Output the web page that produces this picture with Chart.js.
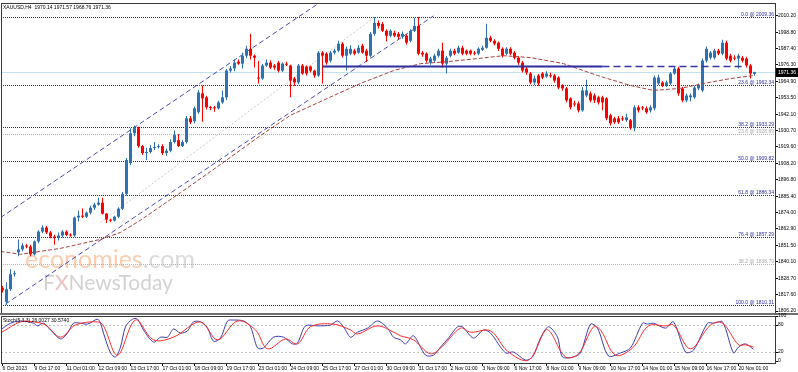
<!DOCTYPE html>
<html lang="en">
<head>
<meta charset="UTF-8">
<title>XAUUSD,H4</title>
<script src="https://cdn.jsdelivr.net/npm/chart.js"></script>
<style>
  body { margin: 0; background: #fff; }
  #wrap { position: relative; width: 798px; height: 372px; overflow: hidden; background: #fff; }
  #mainChart { position: absolute; left: 0; top: 0; }
  #stochChart { position: absolute; left: 0; top: 312px; }
</style>
</head>
<body>
<div id="wrap">
  <canvas id="mainChart" width="798" height="316"></canvas>
  <canvas id="stochChart" width="798" height="60"></canvas>
</div>
<script>
// ---- data (H4 candles, 6 Oct 2023 .. 20 Nov 2023) ----
const opens = [
  1822.0, 1812.5, 1821.3, 1831.6, 1846.7, 1848.8, 1851.5, 1850.8, 1845.4, 1854.3,
  1861.1, 1863.9, 1860.5, 1857.7, 1857.0, 1858.4, 1861.1, 1858.8, 1858.4, 1870.8,
  1872.1, 1871.4, 1874.2, 1877.6, 1879.7, 1881.1, 1873.5, 1869.4, 1868.7, 1871.4,
  1876.9, 1887.2, 1908.5, 1929.1, 1932.6, 1920.2, 1915.4, 1916.1, 1918.8, 1919.5,
  1920.2, 1915.4, 1917.0, 1923.0, 1924.3, 1920.2, 1923.0, 1939.4, 1937.4, 1943.6,
  1956.6, 1953.9, 1947.0, 1947.0, 1946.3, 1950.4, 1953.9, 1972.4, 1973.8, 1978.6,
  1977.2, 1982.7, 1987.5, 1982.7, 1967.6, 1966.9, 1975.9, 1977.9, 1975.9, 1977.9,
  1972.4, 1977.2, 1975.9, 1966.9, 1964.2, 1975.9, 1975.2, 1975.2, 1972.4, 1969.0,
  1984.8, 1984.1, 1979.3, 1984.8, 1986.2, 1991.0, 1982.7, 1984.1, 1986.2, 1984.8,
  1989.6, 1986.2, 1982.7, 1997.8, 2005.4, 2004.7, 1999.9, 1996.5, 1998.5, 1997.8,
  1995.8, 1996.5, 1993.0, 1999.9, 2003.3, 1984.8, 1984.1, 1977.9, 1979.3, 1982.7,
  1986.2, 1977.2, 1982.7, 1986.2, 1984.8, 1988.2, 1986.2, 1986.2, 1984.8, 1984.1,
  1986.8, 1988.2, 1995.1, 1993.0, 1991.7, 1987.5, 1984.1, 1987.5, 1984.8, 1981.3,
  1977.9, 1973.8, 1970.4, 1964.2, 1969.0, 1970.4, 1968.3, 1969.0, 1969.0, 1967.6,
  1962.1, 1960.1, 1953.2, 1949.7, 1949.7, 1944.9, 1955.2, 1956.6, 1955.2, 1953.9,
  1953.9, 1953.2, 1941.5, 1939.4, 1939.4, 1939.4, 1938.1, 1938.1, 1932.6, 1947.0,
  1947.0, 1946.3, 1944.9, 1946.3, 1963.5, 1964.2, 1962.1, 1963.5, 1970.4, 1973.8,
  1960.1, 1951.8, 1953.9, 1953.9, 1960.1, 1958.7, 1979.3, 1981.3, 1981.3, 1986.2,
  1984.1, 1991.7, 1982.7, 1981.3, 1980.7, 1981.3, 1980.7, 1975.9, 1970.14
];
const highs = [
  1823.5, 1826.0, 1835.0, 1834.0, 1855.7, 1853.0, 1852.5, 1852.0, 1855.0, 1862.0,
  1865.5, 1865.0, 1861.5, 1859.0, 1860.5, 1862.0, 1862.0, 1860.0, 1871.5, 1875.5,
  1877.0, 1875.0, 1879.0, 1881.0, 1884.5, 1884.5, 1874.0, 1870.0, 1872.0, 1878.0,
  1888.5, 1912.0, 1932.6, 1934.5, 1933.5, 1921.0, 1919.0, 1921.0, 1923.0, 1921.5,
  1921.5, 1918.5, 1925.0, 1931.0, 1928.5, 1924.5, 1941.0, 1941.0, 1947.5, 1959.0,
  1962.1, 1955.0, 1948.0, 1948.0, 1951.5, 1958.7, 1973.5, 1975.5, 1980.0, 1980.0,
  1984.8, 1989.6, 1997.8, 1983.5, 1979.0, 1977.0, 1980.0, 1979.5, 1977.0, 1979.0,
  1978.0, 1978.5, 1976.5, 1968.0, 1977.0, 1977.0, 1976.0, 1976.0, 1973.0, 1986.0,
  1986.0, 1985.0, 1986.0, 1987.5, 1993.0, 1992.0, 1989.0, 1990.0, 1987.5, 1990.0,
  1991.0, 1987.5, 1999.0, 2009.4, 2007.0, 2006.0, 2001.0, 2001.0, 2000.0, 1999.0,
  1999.5, 1997.5, 2001.0, 2009.0, 2009.4, 1986.0, 1985.0, 1982.0, 1984.0, 1987.5,
  1991.7, 1982.5, 1987.5, 1987.5, 1989.6, 1989.6, 1987.0, 1987.0, 1986.0, 1988.5,
  1989.6, 2004.7, 1996.5, 1994.0, 1992.5, 1988.5, 1988.5, 1988.5, 1986.0, 1982.5,
  1979.0, 1975.0, 1971.5, 1969.0, 1970.0, 1971.5, 1972.0, 1971.0, 1970.0, 1968.5,
  1963.0, 1961.0, 1954.0, 1951.5, 1951.0, 1961.0, 1966.0, 1958.0, 1956.5, 1955.0,
  1955.0, 1954.0, 1942.5, 1940.5, 1941.0, 1941.0, 1942.5, 1939.0, 1948.5, 1948.5,
  1948.0, 1947.5, 1948.5, 1969.0, 1969.5, 1965.0, 1965.5, 1971.5, 1975.5, 1975.0,
  1961.0, 1956.5, 1956.5, 1962.0, 1963.5, 1980.7, 1989.0, 1986.0, 1987.5, 1987.5,
  1993.7, 1993.0, 1984.0, 1983.0, 1984.0, 1982.5, 1982.0, 1977.0, 1971.57
];
const lows = [
  1819.0, 1810.3, 1820.0, 1830.0, 1844.0, 1847.5, 1849.5, 1844.0, 1844.5, 1853.0,
  1860.0, 1859.5, 1856.5, 1852.0, 1855.0, 1857.0, 1858.0, 1857.5, 1857.5, 1868.0,
  1870.5, 1870.5, 1873.0, 1876.0, 1879.0, 1873.0, 1867.0, 1867.5, 1868.0, 1870.5,
  1876.0, 1886.0, 1907.0, 1927.0, 1919.0, 1914.0, 1910.6, 1915.0, 1917.5, 1918.5,
  1914.0, 1913.5, 1916.0, 1922.0, 1919.5, 1919.5, 1922.0, 1935.5, 1936.0, 1942.5,
  1937.0, 1945.5, 1945.0, 1944.0, 1945.5, 1949.5, 1952.0, 1971.0, 1972.0, 1976.5,
  1973.8, 1981.0, 1980.0, 1974.5, 1963.5, 1966.0, 1975.0, 1973.5, 1973.0, 1971.0,
  1971.5, 1975.5, 1953.9, 1962.0, 1963.0, 1969.5, 1969.0, 1971.0, 1967.5, 1968.0,
  1963.5, 1976.5, 1978.0, 1983.5, 1985.0, 1981.5, 1972.4, 1983.0, 1983.0, 1984.0,
  1984.0, 1978.5, 1981.5, 1996.5, 2001.5, 1999.0, 1992.5, 1995.5, 1995.5, 1994.0,
  1994.5, 1990.5, 1992.0, 1999.0, 1983.0, 1982.0, 1978.0, 1976.5, 1978.0, 1981.5,
  1974.5, 1970.4, 1981.5, 1983.0, 1984.0, 1983.0, 1983.0, 1983.0, 1983.0, 1983.0,
  1986.0, 1987.5, 1992.0, 1990.0, 1986.0, 1981.5, 1983.0, 1983.0, 1980.0, 1976.5,
  1971.0, 1969.5, 1963.0, 1962.5, 1962.0, 1966.5, 1967.5, 1967.5, 1964.0, 1959.5,
  1958.5, 1950.5, 1945.5, 1947.5, 1943.5, 1944.0, 1954.0, 1950.5, 1950.0, 1949.0,
  1945.0, 1938.0, 1934.5, 1935.5, 1935.5, 1937.5, 1937.0, 1931.5, 1930.5, 1943.5,
  1945.0, 1942.5, 1943.5, 1945.0, 1962.5, 1961.0, 1961.0, 1962.5, 1969.5, 1955.0,
  1950.5, 1950.5, 1951.0, 1953.0, 1959.0, 1957.5, 1978.0, 1980.0, 1980.0, 1983.0,
  1983.0, 1979.5, 1978.0, 1979.5, 1973.8, 1978.0, 1974.5, 1967.0, 1968.76
];
const closes = [
  1820.6, 1821.3, 1831.6, 1832.2, 1848.8, 1851.5, 1850.8, 1845.4, 1854.3, 1861.1,
  1863.9, 1860.5, 1857.7, 1857.0, 1858.4, 1861.1, 1858.8, 1858.4, 1870.8, 1872.1,
  1871.4, 1874.2, 1877.6, 1879.7, 1881.1, 1873.5, 1869.4, 1868.7, 1871.4, 1876.9,
  1887.2, 1910.6, 1929.1, 1932.6, 1920.2, 1915.4, 1916.1, 1918.8, 1919.5, 1920.2,
  1915.4, 1917.0, 1923.0, 1927.8, 1920.2, 1923.0, 1939.4, 1936.7, 1946.3, 1957.3,
  1953.2, 1947.0, 1946.6, 1946.3, 1950.4, 1953.9, 1972.4, 1973.8, 1977.9, 1977.2,
  1982.7, 1987.5, 1982.7, 1981.3, 1966.9, 1975.9, 1977.9, 1974.5, 1974.5, 1972.4,
  1977.2, 1976.5, 1965.5, 1964.2, 1975.9, 1970.4, 1970.4, 1972.4, 1969.0, 1984.8,
  1982.7, 1977.9, 1984.8, 1986.2, 1991.0, 1982.7, 1987.5, 1987.5, 1984.1, 1988.2,
  1984.8, 1982.7, 1997.8, 2005.4, 2003.3, 1999.9, 1996.5, 1999.9, 1996.5, 1995.8,
  1997.8, 1991.7, 1999.9, 2003.3, 1984.1, 1983.5, 1979.3, 1980.7, 1982.7, 1986.2,
  1977.2, 1981.3, 1986.2, 1984.1, 1988.2, 1984.1, 1984.1, 1984.1, 1984.1, 1987.5,
  1988.2, 1995.1, 1993.0, 1991.0, 1987.5, 1982.7, 1987.5, 1984.1, 1981.3, 1977.9,
  1972.4, 1971.0, 1964.2, 1966.9, 1963.5, 1967.6, 1970.4, 1968.5, 1965.5, 1960.7,
  1960.1, 1951.8, 1947.0, 1949.0, 1944.9, 1958.7, 1958.7, 1951.8, 1951.8, 1950.4,
  1950.4, 1939.4, 1936.0, 1936.7, 1936.7, 1938.7, 1940.1, 1932.6, 1947.0, 1944.9,
  1946.3, 1943.6, 1947.0, 1967.6, 1967.6, 1962.1, 1964.2, 1970.4, 1973.8, 1956.6,
  1951.8, 1955.2, 1955.2, 1960.7, 1962.1, 1979.3, 1987.5, 1984.8, 1986.2, 1984.1,
  1991.7, 1980.7, 1979.3, 1980.7, 1982.7, 1979.3, 1975.9, 1970.4, 1971.36
];

// moving average, read at key bars
const maBars = [-0.5, 4.5, 14.5, 24.5, 29.5, 34.5, 44.5, 54.5, 64.5, 72, 81.25, 89.5, 97.75,
  104.5, 111.25, 118.75, 125.25, 132, 140.25, 148.75, 157, 162.75, 169.5, 175.25, 182, 187.75];
const maVals = [1847.4, 1845.4, 1849.5, 1855.7, 1860.5, 1869.0, 1888.0, 1907.5, 1927.5, 1941.5, 1953.2, 1963.5, 1972.4,
  1977.2, 1978.6, 1980.7, 1982.7, 1981.4, 1977.2, 1969.0, 1962.1, 1958.7, 1960.1, 1963.5, 1966.9, 1969.0];

// Stoch(5,3,3) main (%K) and signal (%D)
const stochKBars = [-0.5, 2, 4.5, 7.75, 8.75, 10.25, 12, 14.5, 16.25, 17.75, 19.5, 21.25, 23.75, 24.5, 25.25, 27, 28.25,
  29.5, 30.75, 32.5, 33.75, 35.25, 37.75, 39.5, 41.25, 42.75, 44.5, 46.25, 47.75, 49.5, 51.25, 52.75, 54.5, 56.25,
  57.75, 60.25, 62, 63.75, 65.25, 67.75, 70.25, 72.5, 73.75, 75.75, 78.75, 82, 83.75, 85.25, 87, 88.75, 91.25, 93.75,
  96.25, 97.75, 99.5, 100.75, 102.75, 105.75, 107.75, 109.5, 111.5, 113.75, 115, 117.75, 120.25, 122, 125.75, 127.75,
  130.75, 132.5, 134.5, 136.5, 138.75, 140, 142.75, 144.5, 147, 148.75, 151.5, 154.5, 157, 160, 161.25, 162.75, 165.75,
  167.75, 170.75, 172.75, 176.25, 177.75, 180, 182.75, 184, 185.75, 187.75];
const stochKVals = [69, 84, 89, 84, 78, 84, 69, 49, 62, 84, 84, 82, 93, 84, 62, 18, 9,
  31, 76, 93, 93, 69, 42, 53, 53, 71, 62, 67, 87, 87, 73, 44, 51, 89,
  91, 89, 76, 29, 29, 53, 53, 38, 40, 78, 78, 80, 89, 76, 53, 64, 73, 89,
  73, 53, 47, 38, 56, 13, 13, 31, 51, 76, 76, 51, 69, 62, 18, 20,
  2, 9, 51, 76, 53, 9, 9, 18, 82, 73, 11, 18, 29, 84, 82, 84, 73,
  87, 20, 24, 84, 84, 87, 18, 31, 38, 26];
const stochDBars = [-0.5, 4.5, 7.75, 10.75, 14.5, 18.25, 23.75, 25.25, 28.75, 33.25, 37.75, 42.75, 49.5, 53.75, 58.75,
  63.25, 66.25, 70.75, 73.75, 77, 82.75, 87, 88.75, 93.75, 98.25, 99.5, 102.75, 107, 110, 114.5, 117, 122, 126.25,
  131.5, 135.75, 137, 140.75, 144, 147.75, 149.5, 153.25, 157.5, 161.5, 165.75, 167.75, 172, 177, 180, 184, 185.75, 187.75];
const stochDVals = [62, 87, 87, 80, 53, 80, 87, 78, 13, 91, 47, 53, 87, 47, 89,
  69, 27, 49, 38, 76, 82, 69, 60, 78, 62, 56, 47, 16, 33, 73, 64, 67, 22,
  2, 69, 64, 9, 16, 76, 69, 13, 29, 78, 78, 80, 27, 80, 84, 36, 36, 31];

// drawn objects
const fibMainPct = ['0.0', '23.6', '38.2', '50.0', '61.8', '76.4', '100.0'];
const fibMainVal = [2009.36, 1962.34, 1933.29, 1909.82, 1886.34, 1857.29, 1810.31];
const fibAltPct = ['23.6', '38.2'];
const fibAltVal = [1928.89, 1838.79];
const fibDiagBars = [24.5, 92.75];
const fibDiagVals = [1867.3, 2008.8];
const channelUpperBars = [-0.5, 80];
const channelUpperVals = [1870.8, 2020.7];
const channelLowerBars = [0.75, 107.75];
const channelLowerVals = [1811.0, 2010.2];
const supportLevel = 1975.2;
const supportSolidBars = [80, 150];
const supportDashBars = [150, 185.75];
const lastPrice = 1971.36;

// axis labels
const priceTicks = [2010.20, 1998.80, 1987.40, 1976.30, 1964.90, 1953.50, 1942.10, 1930.70, 1919.60, 1908.20,
  1896.80, 1885.40, 1874.00, 1862.90, 1851.50, 1840.10, 1828.70, 1817.60, 1806.20];
const stochTicks = [0, 20, 80, 100];
const xLabels = ['6 Oct 2023', '9 Oct 17:00', '11 Oct 01:00', '12 Oct 09:00', '13 Oct 17:00', '17 Oct 01:00',
  '18 Oct 09:00', '19 Oct 17:00', '23 Oct 01:00', '24 Oct 09:00', '25 Oct 17:00', '27 Oct 01:00', '30 Oct 09:00',
  '31 Oct 17:00', '2 Nov 01:00', '3 Nov 09:00', '6 Nov 17:00', '8 Nov 01:00', '9 Nov 09:00', '10 Nov 17:00',
  '14 Nov 01:00', '15 Nov 09:00', '16 Nov 17:00', '20 Nov 01:00'];
const headerText = 'XAUUSD,H4  1970.14 1971.57 1968.76 1971.36';
const stochText = 'Stoch(5,3,3) 26.0027 30.5740';

// ---- chart setup ----
Chart.defaults.animation = false;
const FONT = '"Liberation Sans", Arial, sans-serif';
const FSIZE = 5;
const BULL = '#2f72b3';
const BEAR = '#ff0000';
const NAVY = '#2a2aa0';
const X_MIN = -0.375, X_MAX = 193.125;

const candleColors = closes.map((c, i) => c >= opens[i] ? BULL : BEAR);
const pts = (bars, vals) => bars.map((b, i) => ({ x: b, y: vals[i] }));

const lineDs = (data, color, width, dash, order) => ({
  type: 'line', data, borderColor: color, borderWidth: width, borderDash: dash,
  pointRadius: 0, fill: false, tension: 0, order
});

function hline(ctx, area, py, color, dash) {
  py = Math.round(py) + 0.5;
  ctx.strokeStyle = color;
  ctx.lineWidth = 1;
  ctx.setLineDash(dash);
  ctx.beginPath();
  ctx.moveTo(area.left, py);
  ctx.lineTo(area.right, py);
  ctx.stroke();
}

function fitFont(ctx, text, family, width) {
  ctx.font = '20px ' + family;
  return 20 * width / ctx.measureText(text).width;
}

const mainDecor = {
  id: 'mainDecor',
  beforeDatasetsDraw(chart) {
    const { ctx, chartArea: a, scales: { y } } = chart;
    ctx.save();
    ctx.beginPath();
    ctx.rect(a.left, a.top, a.right - a.left, a.bottom - a.top);
    ctx.clip();

    // watermark
    const wf = '"Lato", "Open Sans", sans-serif';
    let s = fitFont(ctx, 'economies.com', wf, 170);
    ctx.font = s + 'px ' + wf;
    ctx.textBaseline = 'alphabetic';
    ctx.textAlign = 'left';
    ctx.fillStyle = '#fbcdb0';
    ctx.fillText('economies', 25, 268);
    ctx.fillStyle = '#dadada';
    ctx.fillText('.com', 25 + ctx.measureText('economies').width, 268);
    s = fitFont(ctx, 'FXNewsToday', wf, 130);
    ctx.font = s + 'px ' + wf;
    let wx = 43;
    ctx.fillStyle = '#d2d2d2';
    ctx.fillText('F', wx, 290);
    wx += ctx.measureText('F').width;
    ctx.fillStyle = '#eac2c2';
    ctx.fillText('X', wx, 290);
    wx += ctx.measureText('X').width;
    ctx.fillStyle = '#d2d2d2';
    ctx.fillText('NewsToday', wx, 290);

    // bid line and fibonacci levels
    hline(ctx, a, y.getPixelForValue(lastPrice), '#bfe3ef', []);
    fibAltVal.forEach(v => hline(ctx, a, y.getPixelForValue(v), '#b5b5b5', [1, 1]));
    fibMainVal.forEach(v => hline(ctx, a, y.getPixelForValue(v), NAVY, [1, 1]));
    ctx.restore();
  },
  afterDatasetsDraw(chart) {
    const { ctx, chartArea: a, scales: { y } } = chart;
    ctx.save();
    ctx.font = FSIZE + 'px ' + FONT;
    ctx.textAlign = 'right';
    ctx.textBaseline = 'bottom';
    fibMainVal.forEach((v, i) => {
      ctx.fillStyle = NAVY;
      ctx.fillText(fibMainPct[i] + ' @ ' + v.toFixed(2), a.right - 1, Math.round(y.getPixelForValue(v)));
    });
    fibAltVal.forEach((v, i) => {
      ctx.fillStyle = '#a8a8a8';
      ctx.fillText(fibAltPct[i] + ' @ ' + v.toFixed(2), a.right - 1, Math.round(y.getPixelForValue(v)));
    });
    ctx.textAlign = 'left';
    ctx.textBaseline = 'top';
    ctx.fillStyle = '#000';
    ctx.fillText(headerText, a.left + 2, a.top + 2);
    ctx.restore();
  },
  afterDraw(chart) {
    const { ctx, chartArea: a, scales: { y } } = chart;
    ctx.save();
    ctx.strokeStyle = '#3a3a3a';
    ctx.lineWidth = 1;
    ctx.strokeRect(a.left + 0.5, a.top + 0.5, a.right - a.left, a.bottom - a.top);
    ctx.fillStyle = '#6e6e6e';
    ctx.fillRect(0, a.bottom, chart.width, 2);
    // last price tag
    const py = Math.round(y.getPixelForValue(lastPrice));
    ctx.fillStyle = '#000';
    ctx.fillRect(a.right + 1, py - 4, chart.width - a.right - 1, 9);
    ctx.fillStyle = '#fff';
    ctx.font = FSIZE + 'px ' + FONT;
    ctx.textAlign = 'left';
    ctx.textBaseline = 'middle';
    ctx.fillText(lastPrice.toFixed(2), a.right + 3, py + 0.5);
    ctx.restore();
  }
};

new Chart(document.getElementById('mainChart'), {
  type: 'bar',
  data: {
    datasets: [
      lineDs(pts(supportSolidBars, supportSolidBars.map(() => supportLevel)), '#2d2d9e', 2, [], 0),
      lineDs(pts(supportDashBars, supportDashBars.map(() => supportLevel)), '#3535a5', 1.5, [7, 4], 0),
      lineDs(pts(maBars, maVals), '#a5413c', 1, [4, 2], 1),
      {
        type: 'bar', data: opens.map((o, i) => ({ x: i, y: [o, closes[i]] })),
        backgroundColor: candleColors, borderWidth: 0, barThickness: 3, grouped: false,
        minBarLength: 1, inflateAmount: 0, order: 2
      },
      {
        type: 'bar', data: lows.map((l, i) => ({ x: i, y: [l, highs[i]] })),
        backgroundColor: candleColors, borderWidth: 0, barThickness: 1, grouped: false,
        minBarLength: 1, inflateAmount: 0, order: 3
      },
      lineDs(pts(channelUpperBars, channelUpperVals), '#4848b4', 1, [5, 3], 4),
      lineDs(pts(channelLowerBars, channelLowerVals), '#4848b4', 1, [5, 3], 4),
      lineDs(pts(fibDiagBars, fibDiagVals), '#c9c9dc', 1, [2, 2], 5)
    ]
  },
  options: {
    responsive: false,
    devicePixelRatio: 1,
    layout: { padding: { left: 1, top: 2, right: 0, bottom: 2 } },
    plugins: { legend: { display: false }, tooltip: { enabled: false } },
    scales: {
      x: { type: 'linear', min: X_MIN, max: X_MAX, offset: false, display: false },
      y: {
        position: 'right', min: 1804.82, max: 2019.13,
        afterFit: s => { s.width = 23; },
        afterBuildTicks: s => { s.ticks = priceTicks.map(v => ({ value: v })); },
        ticks: {
          autoSkip: false, padding: 0, color: '#000',
          font: { family: FONT, size: FSIZE },
          callback: v => Number(v).toFixed(2)
        },
        grid: { drawOnChartArea: false, tickLength: 3, color: '#000' },
        border: { display: true, color: '#000' }
      }
    }
  },
  plugins: [mainDecor]
});

const stochDecor = {
  id: 'stochDecor',
  beforeDatasetsDraw(chart) {
    const { ctx, chartArea: a, scales: { y } } = chart;
    ctx.save();
    hline(ctx, a, y.getPixelForValue(80), '#c4c4c4', [2, 2]);
    hline(ctx, a, y.getPixelForValue(20), '#c4c4c4', [2, 2]);
    ctx.restore();
  },
  afterDraw(chart) {
    const { ctx, chartArea: a } = chart;
    ctx.save();
    ctx.strokeStyle = '#3a3a3a';
    ctx.lineWidth = 1;
    ctx.strokeRect(a.left + 0.5, a.top + 0.5, a.right - a.left, a.bottom - a.top);
    ctx.font = FSIZE + 'px ' + FONT;
    ctx.textAlign = 'left';
    ctx.textBaseline = 'top';
    ctx.fillStyle = '#000';
    ctx.fillText(stochText, a.left + 2, a.top + 2);
    ctx.restore();
  }
};

new Chart(document.getElementById('stochChart'), {
  type: 'line',
  data: {
    datasets: [
      { data: pts(stochKBars, stochKVals), borderColor: '#3d3db0', borderWidth: 1, pointRadius: 0, tension: 0.3, order: 1 },
      { data: pts(stochDBars, stochDVals), borderColor: '#ff2a2a', borderWidth: 1, pointRadius: 0, tension: 0.35, order: 0 }
    ]
  },
  options: {
    responsive: false,
    devicePixelRatio: 1,
    layout: { padding: { left: 1, top: 4, right: 0, bottom: 0 } },
    plugins: { legend: { display: false }, tooltip: { enabled: false } },
    scales: {
      x: {
        type: 'linear', min: X_MIN, max: X_MAX, offset: false,
        afterFit: s => { s.height = 9; },
        afterBuildTicks: s => { s.ticks = xLabels.map((t, k) => ({ value: k * 8 })); },
        ticks: {
          autoSkip: false, maxRotation: 0, align: 'start', padding: 0, color: '#000',
          font: { family: FONT, size: FSIZE },
          callback: v => xLabels[Math.round(v / 8)]
        },
        grid: { drawOnChartArea: false, tickLength: 3, color: '#000' },
        border: { display: true, color: '#000' }
      },
      y: {
        position: 'right', min: -4.44, max: 100,
        afterFit: s => { s.width = 23; },
        afterBuildTicks: s => { s.ticks = stochTicks.map(v => ({ value: v })); },
        ticks: {
          autoSkip: false, padding: 0, color: '#000',
          font: { family: FONT, size: FSIZE },
          callback: v => String(v)
        },
        grid: { drawOnChartArea: false, tickLength: 3, color: '#000' },
        border: { display: true, color: '#000' }
      }
    }
  },
  plugins: [stochDecor]
});
</script>
</body>
</html>
